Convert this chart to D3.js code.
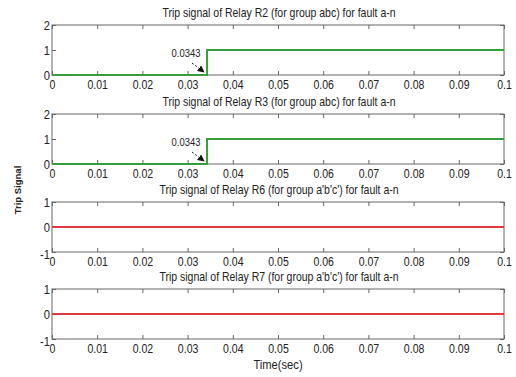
<!DOCTYPE html>
<html>
<head>
<meta charset="utf-8">
<script src="https://cdn.jsdelivr.net/npm/d3@7"></script>
<style>
  html, body { margin: 0; padding: 0; background: #fff; }
  svg { display: block; }
  text { font-family: "Liberation Sans", Arial, sans-serif; fill: #222; }
</style>
</head>
<body>
<svg id="chart" width="516" height="377"></svg>
<script>
// Relay trip signals for a phase a-n fault, 0–0.1 s
const timeTicks = [0, 0.01, 0.02, 0.03, 0.04, 0.05, 0.06, 0.07, 0.08, 0.09, 0.1];
const timeTickLabels = ["0", "0.01", "0.02", "0.03", "0.04", "0.05", "0.06", "0.07", "0.08", "0.09", "0.1"];

const titles = [
  "Trip signal of Relay R2 (for group abc) for fault a-n",
  "Trip signal of Relay R3 (for group abc) for fault a-n",
  "Trip signal of Relay R6 (for group a'b'c') for fault a-n",
  "Trip signal of Relay R7 (for group a'b'c') for fault a-n"
];

const tripTime = 0.0343;

const timeR2 = [0, 0.0343, 0.0343, 0.1];
const signalR2 = [0, 0, 1, 1];
const timeR3 = [0, 0.0343, 0.0343, 0.1];
const signalR3 = [0, 0, 1, 1];
const timeR6 = [0, 0.1];
const signalR6 = [0, 0];
const timeR7 = [0, 0.1];
const signalR7 = [0, 0];

const yDomains = [[0, 2], [0, 2], [-1, 1], [-1, 1]];
const yTicks = [[0, 1, 2], [0, 1, 2], [-1, 0, 1], [-1, 0, 1]];
const yTickLabels = [["0", "1", "2"], ["0", "1", "2"], ["-1", "0", "1"], ["-1", "0", "1"]];
const lineColors = ["#35a03a", "#35a03a", "#e2393e", "#e2393e"];
const annotated = [true, true, false, false];

const panels = [
  { time: timeR2, signal: signalR2 },
  { time: timeR3, signal: signalR3 },
  { time: timeR6, signal: signalR6 },
  { time: timeR7, signal: signalR7 }
];

const svg = d3.select("#chart");
const left = 52, right = 504;
const tops = [25, 114, 202, 289];
const panelH = 50;
const squeeze = 0.86; // horizontal compression for the narrow lettering

const x = d3.scaleLinear().domain([0, 0.1]).range([left, right]);

// narrow text placed at (px, py)
function narrowText(parent, px, py, str, size) {
  return parent.append("text")
    .attr("transform", `translate(${px},${py}) scale(${squeeze},1)`)
    .attr("text-anchor", "middle")
    .style("font-size", size + "px")
    .text(str);
}

svg.append("defs").append("marker")
  .attr("id", "arrow")
  .attr("viewBox", "0 0 10 10")
  .attr("refX", 9).attr("refY", 5)
  .attr("markerWidth", 7).attr("markerHeight", 7)
  .attr("orient", "auto")
  .append("path").attr("d", "M0,0 L10,5 L0,10 z").attr("fill", "#111");

panels.forEach((p, i) => {
  const top = tops[i];
  const y = d3.scaleLinear().domain(yDomains[i]).range([top + panelH, top]);
  const g = svg.append("g");

  // title
  narrowText(g, (left + right) / 2 + 1, top - 8, titles[i], 12.2);

  // frame
  g.append("rect")
    .attr("x", left).attr("y", top)
    .attr("width", right - left).attr("height", panelH)
    .attr("fill", "none").attr("stroke", "#666").attr("stroke-width", 1);

  // bottom axis: inward ticks and labels
  const xb = g.append("g").attr("transform", `translate(0,${top + panelH})`)
    .call(d3.axisBottom(x).tickValues(timeTicks).tickSizeInner(-4).tickSizeOuter(0)
      .tickFormat((d, k) => timeTickLabels[k]));
  xb.select(".domain").remove();
  xb.selectAll(".tick line").attr("stroke", "#666");
  xb.selectAll(".tick text")
    .attr("y", null).attr("dy", null)
    .attr("transform", `translate(0,14) scale(${squeeze - 0.05},1)`)
    .style("font-size", "13px").attr("fill", "#222");

  // top axis: inward ticks only
  const xt = g.append("g").attr("transform", `translate(0,${top})`)
    .call(d3.axisTop(x).tickValues(timeTicks).tickSizeInner(-4).tickSizeOuter(0).tickFormat(""));
  xt.select(".domain").remove();
  xt.selectAll(".tick line").attr("stroke", "#666");

  // left axis
  const yl = g.append("g").attr("transform", `translate(${left},0)`)
    .call(d3.axisLeft(y).tickValues(yTicks[i]).tickSizeInner(-4).tickSizeOuter(0)
      .tickFormat((d, k) => yTickLabels[i][k]));
  yl.select(".domain").remove();
  yl.selectAll(".tick line").attr("stroke", "#666");
  yl.selectAll(".tick text")
    .attr("x", null)
    .attr("transform", d => `translate(-2,${d === -1 ? 2 : 0}) scale(${squeeze},1)`)
    .style("font-size", "13px").attr("fill", "#222");

  // right axis: inward ticks
  const yr = g.append("g").attr("transform", `translate(${right},0)`)
    .call(d3.axisRight(y).tickValues(yTicks[i]).tickSizeInner(-4).tickSizeOuter(0).tickFormat(""));
  yr.select(".domain").remove();
  yr.selectAll(".tick line").attr("stroke", "#666");

  // signal trace
  const line = d3.line().x((d, k) => x(p.time[k])).y(d => y(d));
  g.append("path")
    .datum(p.signal)
    .attr("d", line)
    .attr("fill", "none")
    .attr("stroke", lineColors[i])
    .attr("stroke-width", 2);

  // trip-time annotation
  if (annotated[i]) {
    const tx = x(tripTime), ty = y(0);
    narrowText(g, tx - 21, y(1) + 7, String(tripTime), 11);
    g.append("line")
      .attr("x1", tx - 15).attr("y1", y(1) + 13)
      .attr("x2", tx - 3).attr("y2", ty - 3)
      .attr("stroke", "#111").attr("stroke-width", 1)
      .attr("stroke-dasharray", "2,2")
      .attr("marker-end", "url(#arrow)");
  }
});

// shared axis labels
svg.append("text")
  .attr("transform", "translate(21,190) rotate(-90)")
  .attr("text-anchor", "middle")
  .style("font-size", "9.5px")
  .style("font-weight", "bold")
  .text("Trip Signal");

narrowText(svg, 278, 369, "Time(sec)", 13);
</script>
</body>
</html>
